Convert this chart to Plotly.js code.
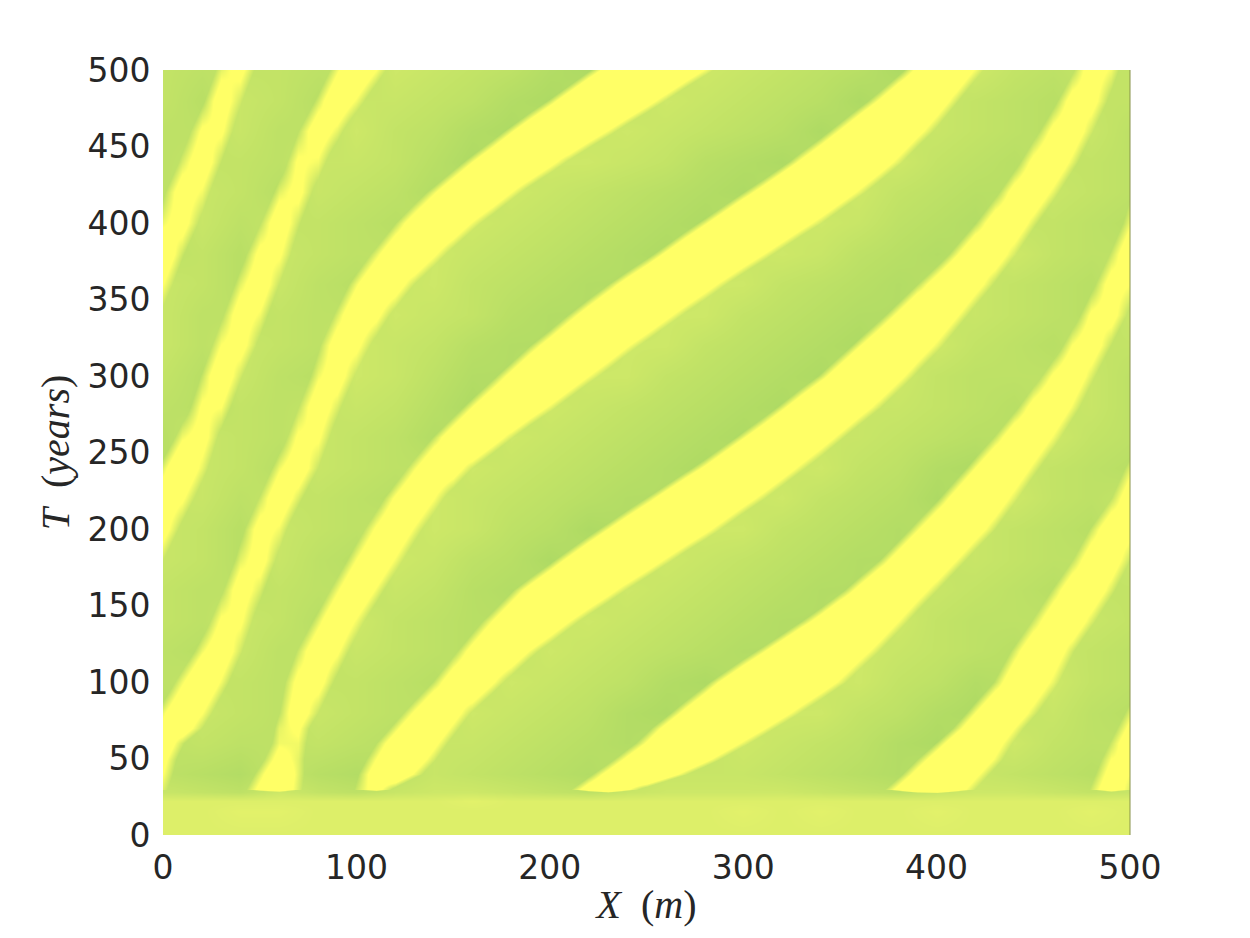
<!DOCTYPE html>
<html>
<head>
<meta charset="utf-8">
<script src="https://cdn.plot.ly/plotly-3.0.1.min.js"></script>
<style>html,body{margin:0;padding:0;background:#fff}</style>
</head>
<body>
<div id="plot1" style="width:1250px;height:938px"></div>
<script>
//axis ticks
var xTicks = [0, 100, 200, 300, 400, 500];
var tTicks = [0, 50, 100, 150, 200, 250, 300, 350, 400, 450, 500];

//grid positions of the two fields
var bandX = [0,10,20,30,40,50,60,70,80,90,100,110,120,130,140,150,160,170,180,190,200,210,220,230,240,250,260,270,280,290,300,310,320,330,340,350,360,370,380,390,400,410,420,430,440,450,460,470,480,490,500];
var bandT = [0,24,30,40,50,60,70,80,100,120,140,160,180,200,220,240,260,280,300,320,340,360,380,400,420,440,460,480,500];
var shadeX = [0,20,40,60,80,100,120,140,160,180,200,220,240,260,280,300,320,340,360,380,400,420,440,460,480,500];
var shadeT = [0,16,22,28,40,60,80,100,120,140,160,180,200,220,240,260,280,300,320,340,360,380,400,420,440,460,480,500];

//yellow stripes: + inside a stripe, - outside, in metres from its edge
var band0 = [-30,-30,-30,-30,-30,-30,-30,-30,-30,-30,-30,-30,-30,-30,-30,-30,-30,-30,-30,-30,-30,-30,-30,-30,-30,-30,-30,-30,-30,-30,-30,-30,-30,-30,-30,-30,-30,-30,-30,-30,-30,-30,-30,-30,-30,-30,-30,-30,-30,-30,-30];
var band24 = [-30,-30,-30,-30,-30,-30,-30,-30,-30,-30,-30,-30,-30,-30,-30,-30,-30,-30,-30,-30,-30,-30,-30,-30,-30,-30,-30,-30,-30,-30,-30,-30,-30,-30,-30,-30,-30,-30,-30,-30,-30,-30,-30,-30,-30,-30,-30,-30,-30,-30,-30];
var band30 = [-1,-10,-20,-16,-6,4,9,-1,-11,-12,-2,5,-5,-15,-25,-30,-30,-30,-30,-24,-14,-4,6,13,3,-7,-17,-27,-30,-30,-30,-30,-30,-30,-30,-26,-16,-6,4,14,17,7,-3,-13,-23,-30,-22,-12,-2,8,-1];
var band40 = [2,-8,-18,-20,-10,0,10,0,-10,-14,-4,6,11,1,-9,-19,-29,-30,-30,-30,-25,-15,-5,5,15,18,8,-2,-12,-22,-30,-30,-30,-30,-30,-30,-25,-15,-5,5,15,14,4,-6,-16,-26,-25,-15,-5,5,2];
var band50 = [4,-6,-16,-25,-15,-5,5,0,-10,-18,-8,2,12,8,-2,-12,-22,-30,-30,-30,-30,-26,-16,-6,4,14,24,15,5,-5,-15,-25,-30,-30,-30,-30,-30,-23,-13,-3,7,17,11,1,-9,-19,-28,-18,-8,2,4];
var band60 = [8,-2,-12,-22,-19,-9,1,1,-9,-19,-13,-3,7,14,4,-6,-16,-26,-30,-30,-30,-30,-27,-17,-7,3,13,23,20,10,0,-10,-20,-30,-30,-30,-30,-30,-22,-12,-2,8,16,6,-4,-14,-24,-22,-12,-2,8];
var band70 = [4,7,-3,-13,-22,-12,0,3,-8,-18,-20,-10,0,10,10,0,-10,-20,-30,-30,-30,-30,-30,-25,-15,-5,5,15,25,23,13,3,-7,-17,-27,-30,-30,-30,-30,-21,-11,-1,9,12,2,-8,-18,-26,-16,-6,4];
var band80 = [1,10,2,-8,-18,-13,-3,7,-3,-13,-23,-17,-7,3,13,6,-4,-14,-24,-30,-30,-30,-30,-30,-25,-15,-5,5,15,25,26,16,6,-4,-14,-24,-30,-30,-30,-28,-18,-8,2,12,9,-1,-11,-21,-20,-10,0];
var band100 = [-9,1,11,1,-9,-16,-6,4,5,-5,-15,-25,-22,-12,-2,8,13,3,-7,-17,-27,-30,-30,-30,-30,-30,-25,-15,-5,5,15,25,30,20,10,0,-10,-20,-30,-30,-30,-22,-12,-2,8,10,0,-10,-20,-19,-9];
var band120 = [-19,-9,1,8,-2,-12,-12,-2,8,3,-7,-17,-27,-25,-15,-5,5,15,11,1,-9,-19,-29,-30,-30,-30,-30,-30,-29,-19,-9,1,11,21,27,17,7,-3,-13,-23,-30,-30,-21,-11,-1,9,8,-2,-12,-22,-19];
var band140 = [-21,-17,-7,3,3,-7,-17,-10,0,10,1,-9,-19,-29,-28,-18,-8,2,12,22,12,2,-8,-18,-28,-30,-30,-30,-30,-30,-30,-23,-13,-3,7,17,22,12,2,-8,-18,-28,-30,-22,-12,-2,8,9,-1,-11,-21];
var band160 = [-11,-21,-14,-4,6,-1,-11,-19,-9,1,11,1,-9,-19,-29,-30,-24,-14,-4,6,16,26,16,6,-4,-14,-24,-30,-30,-30,-30,-30,-30,-25,-15,-5,5,15,17,7,-3,-13,-23,-30,-22,-12,-2,8,9,-1,-11];
var band180 = [-3,-13,-20,-10,0,5,-5,-15,-18,-8,2,11,1,-9,-19,-29,-30,-30,-25,-15,-5,5,15,25,20,10,0,-10,-20,-30,-30,-30,-30,-30,-30,-23,-13,-3,7,17,12,2,-8,-18,-28,-23,-13,-3,7,7,-3];
var band200 = [5,-5,-15,-15,-5,5,1,-9,-19,-17,-7,3,11,1,-9,-19,-29,-30,-30,-30,-28,-18,-8,2,12,22,25,15,5,-5,-15,-25,-30,-30,-30,-30,-29,-19,-9,1,11,17,7,-3,-13,-23,-22,-12,-2,8,5];
var band220 = [7,3,-7,-17,-12,-2,8,-1,-11,-21,-17,-7,3,12,2,-8,-18,-28,-30,-30,-30,-30,-30,-22,-12,-2,8,18,28,18,8,-2,-12,-22,-30,-30,-30,-30,-24,-14,-4,6,16,9,-1,-11,-21,-23,-13,-3,7];
var band240 = [0,10,0,-10,-19,-9,1,7,-3,-13,-23,-19,-9,1,11,7,-3,-13,-23,-30,-30,-30,-30,-30,-30,-26,-16,-6,4,14,24,19,9,-1,-11,-21,-30,-30,-30,-28,-18,-8,2,12,10,0,-10,-20,-20,-10,0];
var band260 = [-9,1,5,-5,-15,-17,-7,3,3,-7,-17,-27,-22,-12,-2,8,18,8,-2,-12,-22,-30,-30,-30,-30,-30,-30,-29,-19,-9,1,11,21,19,9,-1,-11,-21,-30,-30,-30,-22,-12,-2,8,11,1,-9,-19,-19,-9];
var band280 = [-17,-7,3,2,-8,-18,-13,-3,7,-1,-11,-21,-30,-28,-18,-8,2,12,20,10,0,-10,-20,-30,-30,-30,-30,-30,-30,-30,-20,-10,0,10,20,18,8,-2,-12,-22,-30,-30,-25,-15,-5,5,11,1,-9,-19,-17];
var band300 = [-21,-12,-2,8,-2,-12,-19,-9,1,6,-4,-14,-24,-30,-30,-25,-15,-5,5,15,22,12,2,-8,-18,-28,-30,-30,-30,-30,-30,-30,-21,-11,-1,9,19,15,5,-5,-15,-25,-30,-27,-17,-7,3,9,-1,-11,-21];
var band320 = [-13,-18,-8,2,5,-5,-15,-14,-4,6,4,-6,-16,-26,-30,-30,-30,-23,-13,-3,7,17,23,13,3,-7,-17,-27,-30,-30,-30,-30,-30,-29,-19,-9,1,11,21,10,0,-10,-20,-30,-28,-18,-8,2,7,-3,-13];
var band340 = [-5,-15,-14,-4,6,1,-9,-19,-11,-1,9,4,-6,-16,-26,-30,-30,-30,-30,-22,-12,-2,8,18,25,15,5,-5,-15,-25,-30,-30,-30,-30,-30,-26,-16,-6,4,14,13,3,-7,-17,-27,-27,-17,-7,3,5,-5];
var band360 = [2,-8,-18,-10,0,7,-3,-13,-19,-9,1,11,7,-3,-13,-23,-30,-30,-30,-30,-30,-23,-13,-3,7,17,27,18,8,-2,-12,-22,-30,-30,-30,-30,-30,-23,-13,-3,7,16,6,-4,-14,-24,-25,-15,-5,5,2];
var band380 = [8,-2,-12,-16,-6,4,3,-7,-17,-20,-10,0,10,13,3,-7,-17,-27,-30,-30,-30,-30,-30,-26,-16,-6,4,14,24,22,12,2,-8,-18,-28,-30,-30,-30,-29,-19,-9,1,11,8,-2,-12,-22,-22,-12,-2,8];
var band400 = [1,5,-5,-15,-13,-3,7,-2,-12,-22,-23,-13,-3,7,17,11,1,-9,-19,-29,-30,-30,-30,-30,-30,-29,-19,-9,1,11,21,27,17,7,-3,-13,-23,-30,-30,-30,-23,-13,-3,7,9,-1,-11,-21,-19,-9,1];
var band420 = [-4,6,1,-9,-19,-10,0,4,-6,-16,-26,-29,-19,-9,1,11,21,12,2,-8,-18,-28,-30,-30,-30,-30,-30,-30,-23,-13,-3,7,17,27,20,10,0,-10,-20,-30,-30,-25,-15,-5,5,10,0,-10,-20,-14,-4];
var band440 = [-11,-1,7,-3,-13,-17,-7,3,1,-9,-19,-29,-30,-28,-18,-8,2,12,22,15,5,-5,-15,-25,-30,-30,-30,-30,-30,-30,-26,-16,-6,4,14,24,19,9,-1,-11,-21,-30,-26,-16,-6,4,10,0,-10,-20,-11];
var band460 = [-17,-7,3,3,-7,-17,-13,-3,7,0,-10,-20,-30,-30,-30,-29,-19,-9,1,11,21,21,11,1,-9,-19,-29,-30,-30,-30,-30,-30,-27,-17,-7,3,13,23,15,5,-5,-15,-25,-26,-16,-6,4,8,-2,-12,-17];
var band480 = [-15,-14,-4,6,-2,-12,-21,-11,-1,9,1,-9,-19,-29,-30,-30,-30,-30,-21,-11,-1,9,19,26,16,6,-4,-14,-24,-30,-30,-30,-30,-30,-27,-17,-7,3,13,18,8,-2,-12,-22,-25,-15,-5,5,5,-5,-15];
var band500 = [-9,-19,-10,0,4,-6,-16,-19,-9,1,11,2,-8,-18,-28,-30,-30,-30,-30,-30,-24,-14,-4,6,16,26,21,11,1,-9,-19,-29,-30,-30,-30,-30,-26,-16,-6,4,14,11,1,-9,-19,-24,-14,-4,6,1,-9];

//green shade between the stripes, 0 darkest to 10 lightest
var shade0 = [9,9,9,9,9,9,9,9,9,9,9,9,9,9,9,9,9,9,9,9,9,9,9,9,9,9];
var shade16 = [9,9,10,10,9,9,9,9,9,9,9,9,9,9,9,10,9,10,9,9,10,9,9,9,10,9];
var shade22 = [9,9,9,9,9,9,9,9,10,9,9,9,9,9,9,9,9,9,9,9,9,9,9,9,9,9];
var shade28 = [5,4,3,6,4,3,5,6,6,5,4,3,5,6,6,6,6,5,4,3,5,6,6,5,4,5];
var shade40 = [3,2,1,4,2,1,3,5,4,3,2,1,3,5,5,5,4,3,2,1,3,5,4,3,2,3];
var shade60 = [3,4,3,3,4,3,2,5,5,4,3,2,1,2,4,6,5,4,3,1,0,3,6,4,3,3];
var shade80 = [2,5,4,3,5,4,3,3,6,5,4,3,1,0,2,4,6,6,4,3,1,0,4,5,3,2];
var shade100 = [3,4,4,3,4,4,3,2,4,6,5,4,3,1,0,2,3,5,6,4,3,1,2,6,4,3];
var shade120 = [3,2,5,3,3,5,4,3,2,4,6,5,4,3,2,1,1,3,6,5,4,3,2,5,4,3];
var shade140 = [4,3,5,4,2,6,4,3,2,2,5,6,5,4,3,2,1,1,3,6,4,3,3,3,5,4];
var shade160 = [4,3,3,4,3,3,5,4,2,1,2,4,6,5,4,3,2,1,1,4,5,4,3,2,4,4];
var shade180 = [5,4,2,5,3,2,6,5,3,2,0,2,4,6,5,4,3,2,1,1,4,5,4,3,3,5];
var shade200 = [5,4,2,5,4,3,4,6,5,3,2,0,1,4,6,6,4,3,2,1,2,5,4,3,2,5];
var shade220 = [4,5,3,4,4,3,2,6,5,4,3,2,1,1,3,5,6,4,3,2,0,3,6,4,3,4];
var shade240 = [2,5,4,2,5,4,3,3,6,5,4,3,2,1,0,3,5,6,4,3,1,0,5,4,3,2];
var shade260 = [2,5,4,3,5,4,3,1,3,6,5,4,3,2,1,0,3,5,5,4,3,2,2,6,4,3];
var shade280 = [3,2,4,3,4,5,4,2,0,3,6,5,4,3,2,1,0,3,5,5,4,3,2,4,5,3];
var shade300 = [4,2,5,3,2,6,5,3,1,1,4,6,6,4,3,2,1,0,3,6,4,3,3,3,5,3];
var shade320 = [5,3,5,4,3,6,5,4,2,1,1,4,6,6,4,3,2,1,0,3,6,4,3,2,4,4];
var shade340 = [5,3,3,4,3,3,6,5,4,2,1,1,4,6,6,4,3,2,1,1,4,5,4,3,2,5];
var shade360 = [5,4,2,5,3,2,5,6,4,3,2,1,1,3,6,6,4,3,2,1,2,5,4,3,2,5];
var shade380 = [3,4,2,5,4,3,3,6,5,4,3,2,1,0,3,5,6,5,3,2,1,2,6,4,3,3];
var shade400 = [2,5,3,4,4,3,2,4,6,5,4,3,2,1,0,3,5,6,5,3,2,1,4,4,3,2];
var shade420 = [3,5,4,2,5,4,3,1,3,6,5,4,3,2,1,0,2,4,6,4,3,2,2,5,4,3];
var shade440 = [3,4,4,3,5,5,4,2,0,3,6,6,5,4,2,1,0,2,4,6,4,3,2,4,4,3];
var shade460 = [3,3,5,3,3,6,4,3,1,0,3,5,6,5,4,3,2,0,2,4,5,4,3,2,5,3];
var shade480 = [4,2,5,4,2,5,5,4,3,1,0,2,4,6,5,4,3,2,0,2,5,4,3,2,4,4];
var shade500 = [4,3,4,4,3,3,6,5,4,3,1,0,2,4,6,5,4,3,2,0,3,6,4,3,4,4];

var bandZ = [band0,band24,band30,band40,band50,band60,band70,band80,band100,band120,band140,band160,band180,band200,band220,band240,band260,band280,band300,band320,band340,band360,band380,band400,band420,band440,band460,band480,band500];
var shadeZ = [shade0,shade16,shade22,shade28,shade40,shade60,shade80,shade100,shade120,shade140,shade160,shade180,shade200,shade220,shade240,shade260,shade280,shade300,shade320,shade340,shade360,shade380,shade400,shade420,shade440,shade460,shade480,shade500];

function draw() {
  try {
    var shade = {
      type: 'heatmap',
      x: shadeX,
      y: shadeT,
      z: shadeZ,
      zmin: 0,
      zmax: 10,
      zsmooth: 'best',
      showscale: false,
      hoverinfo: 'skip',
      colorscale: [[0, 'rgb(174,218,100)'], [1, 'rgb(226,241,106)']]
    };
    var band = {
      type: 'heatmap',
      x: bandX,
      y: bandT,
      z: bandZ,
      zmin: -3,
      zmax: 2,
      zsmooth: 'best',
      showscale: false,
      hoverinfo: 'skip',
      colorscale: [[0, 'rgba(255,255,102,0)'], [1, 'rgba(255,255,102,1)']]
    };

    var tickFont = {family: 'DejaVu Sans', size: 33, color: '#262626'};
    var titleFont = {family: 'Liberation Serif', size: 40, color: '#262626'};

    var layout = {
      width: 1250,
      height: 938,
      margin: {l: 163, r: 120, t: 70, b: 103},
      paper_bgcolor: '#ffffff',
      plot_bgcolor: '#ffffff',
      xaxis: {
        range: [0, 500],
        tickvals: xTicks,
        ticktext: xTicks.map(String),
        tickfont: tickFont,
        ticks: 'outside',
        ticklen: 3,
        tickcolor: 'rgba(0,0,0,0)',
        showgrid: false,
        zeroline: false,
        showline: false,
        title: {text: '<i>X</i>  (<i>m</i>)', font: titleFont, standoff: 4}
      },
      yaxis: {
        range: [0, 500],
        tickvals: tTicks,
        ticktext: tTicks.map(String),
        tickfont: tickFont,
        ticks: 'outside',
        ticklen: 5,
        tickcolor: 'rgba(0,0,0,0)',
        showgrid: false,
        zeroline: false,
        showline: false,
        title: {text: '<i>T</i>  (<i>years</i>)', font: titleFont, standoff: 5}
      },
      //thin box line only shows on the right side
      shapes: [{
        type: 'line', xref: 'paper', yref: 'paper',
        x0: 1, x1: 1, y0: 0, y1: 1,
        line: {color: '#87924a', width: 1}
      }]
    };

    Plotly.newPlot('plot1', [shade, band], layout, {displayModeBar: false, staticPlot: true});
  }
  catch (err) {
    console.error(err);
  }
}
draw();
</script>
</body>
</html>
